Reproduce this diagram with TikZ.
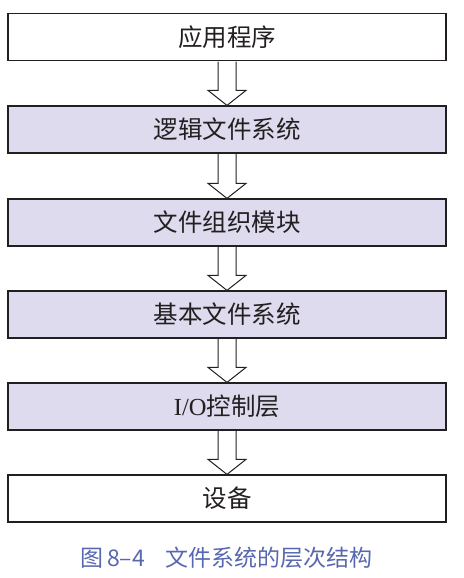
\documentclass[tikz,border=0pt]{standalone}
\usepackage{fontspec}
\setmainfont{Liberation Serif}
\newfontfamily\cjk{Noto Sans CJK SC}
\usetikzlibrary{calc}
\definecolor{ink}{HTML}{231F20}
\definecolor{lav}{HTML}{DEDBEE}
\definecolor{capblue}{HTML}{5868B0}
\begin{document}
\begin{tikzpicture}[x=1pt,y=-1pt,
  layer/.style={draw=ink, line width=1.2pt, minimum width=438pt, minimum height=47pt,
    inner sep=0pt, font=\fontsize{24.5}{26}\selectfont, text=ink},
  shaded/.style={layer, fill=lav},
  plain/.style={layer, fill=white},
  hollow/.style={draw=ink, line width=1pt, fill=white, line join=miter}]
\useasboundingbox (0,0) rectangle (463,578);
\node[plain]  (n1) at (227,37)    {\cjk 应用程序};
\node[shaded] (n2) at (227,129.5) {\cjk 逻辑文件系统};
\node[shaded] (n3) at (227,222.5) {\cjk 文件组织模块};
\node[shaded] (n4) at (227,314.5) {\cjk 基本文件系统};
\node[shaded] (n5) at (227,406.5) {I/O{\cjk 控制层}};
\node[plain]  (n6) at (227,498.5) {\cjk 设备};
\foreach \a/\b in {n1/n2,n2/n3,n3/n4,n4/n5,n5/n6}{
  \draw[hollow] ($(\a.south)+(-9,0.6)$) -- ($(\b.north)+(-9,-15)$) -- ($(\b.north)+(-19,-15)$)
    -- (\b.north) -- ($(\b.north)+(19,-15)$) -- ($(\b.north)+(9,-15)$) -- ($(\a.south)+(9,0.6)$);
}
\node[text=capblue, font=\cjk\fontsize{23}{26}\selectfont, inner sep=0pt] (cap) at (226.5,558)
  {图\,8–4\hspace{0.9em}文件系统的层次结构};
\end{tikzpicture}
\end{document}
